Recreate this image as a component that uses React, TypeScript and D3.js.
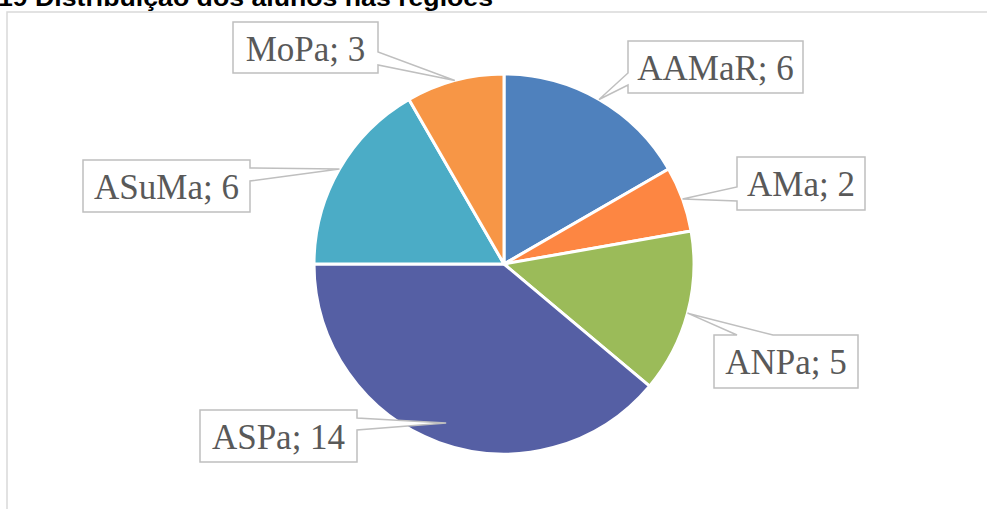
import React from 'react';
import * as d3 from 'd3';

const regions = ['AAMaR', 'AMa', 'ANPa', 'ASPa', 'ASuMa', 'MoPa'];
const students = [6, 2, 5, 14, 6, 3];
const sliceColors = ['#4F81BD', '#FD8642', '#9BBB59', '#555FA4', '#4BACC6', '#F79646'];

const title = '19 Distribuição dos alunos nas regiões';

// label callout layout (box + where the tail leaves the box)
const callouts = [
  { x: 628, y: 41, w: 175, h: 52, side: 'left', b1: 32, b2: 44, tipR: 1.0 },
  { x: 737, y: 157, w: 128, h: 53, side: 'left', b1: 30, b2: 44, tipR: 1.0 },
  { x: 714, y: 335, w: 144, h: 53, side: 'top', b1: 23, b2: 59, tipR: 1.0 },
  { x: 200, y: 410, w: 157, h: 52, side: 'right', b1: 8, b2: 20, tipR: 0.89 },
  { x: 83, y: 160, w: 167, h: 52, side: 'right', b1: 8, b2: 21, tipR: 1.0 },
  { x: 233, y: 22, w: 145, h: 51, side: 'right', b1: 30, b2: 43, tipR: 1.0 },
];

const width = 987;
const height = 509;
const cx = 504;
const cy = 264;
const radius = 190;

function calloutPath(c, tip) {
  const { x, y, w, h, side, b1, b2 } = c;
  const r = x + w, b = y + h;
  let pts;
  if (side === 'top') {
    pts = [[x, y], [x + b1, y], tip, [x + b2, y], [r, y], [r, b], [x, b]];
  } else if (side === 'left') {
    pts = [[x, y], [r, y], [r, b], [x, b], [x, y + b2], tip, [x, y + b1]];
  } else {
    pts = [[x, y], [r, y], [r, y + b1], tip, [r, y + b2], [r, b], [x, b]];
  }
  return 'M' + pts.map(p => p.join(',')).join('L') + 'Z';
}

export default function App() {
  const pie = d3.pie<number>().sort(null).value(d => d);
  const arcs = pie(students);
  const arc = d3.arc<d3.PieArcDatum<number>>().innerRadius(0).outerRadius(radius);

  return (
    <svg width={width} height={height} style={{ position: 'absolute', left: 0, top: 0, background: '#fff' }}>
      <text x={-2} y={6} textLength={495} lengthAdjust="spacingAndGlyphs"
        fontFamily="'Liberation Sans', Arial, sans-serif" fontWeight="bold" fontSize={24} fill="#000">
        {title}
      </text>
      <path d={`M7,509V12H${width}`} fill="none" stroke="#d9d9d9" strokeWidth={1.5} />

      <g transform={`translate(${cx},${cy})`}>
        {arcs.map((a, i) => (
          <path key={regions[i]} d={arc(a)} fill={sliceColors[i]} stroke="#fff" strokeWidth={3} strokeLinejoin="round" />
        ))}
      </g>

      <g>
        {arcs.map((a, i) => {
          const c = callouts[i];
          const mid = (a.startAngle + a.endAngle) / 2;
          const tr = radius * c.tipR;
          const tip = [cx + tr * Math.sin(mid), cy - tr * Math.cos(mid)];
          return (
            <g key={regions[i]}>
              <path d={calloutPath(c, tip)} fill="#fff" stroke="#bfbfbf" strokeWidth={1.5} />
              <text x={c.x + c.w / 2} y={c.y + 39} textAnchor="middle"
                fontFamily="'Liberation Serif', 'Times New Roman', serif" fontSize={35} fill="#595959">
                {`${regions[i]}; ${students[i]}`}
              </text>
            </g>
          );
        })}
      </g>
    </svg>
  );
}
